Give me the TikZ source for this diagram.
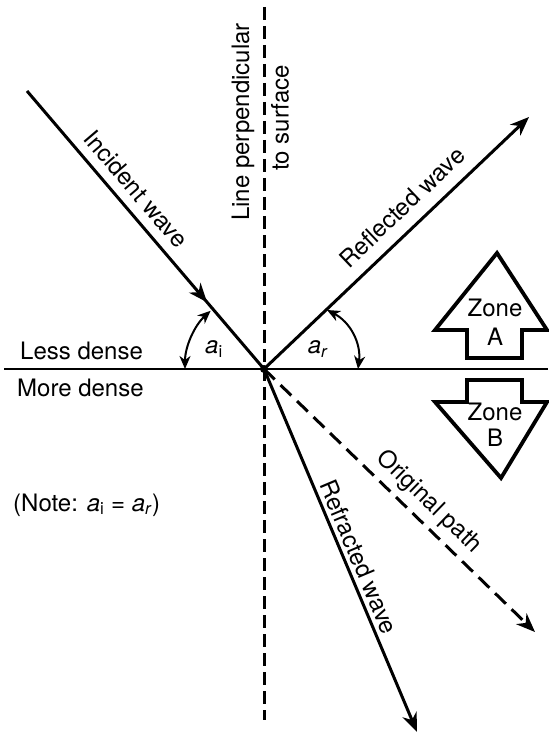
\documentclass[tikz,border=0pt]{standalone}
\usepackage{fontspec}
\setmainfont{TeX Gyre Heros}
\usetikzlibrary{arrows.meta,decorations.markings}
\tikzset{
  txt/.style={font=\fontsize{24}{28}\selectfont, inner sep=0pt},
  wave/.style={line width=3pt},
  bigtip/.style={-{Stealth[length=19pt,width=15pt,inset=6pt]}},
  angtip/.style={{Stealth[length=13pt,width=11pt,inset=4pt]}-{Stealth[length=13pt,width=11pt,inset=4pt]}},
  zone/.style={line width=3.8pt, line join=miter},
}
\begin{document}
\begin{tikzpicture}[x=1pt,y=-1pt]
\useasboundingbox (0,0) rectangle (548,735);
% key points
\coordinate (O) at (264,369);
\coordinate (I) at (27,91);
\coordinate (R) at (529,117);
\coordinate (P) at (535,632);
\coordinate (F) at (417,732);
\coordinate (Vt) at (264,7);
\coordinate (Vb) at (264,720);
\coordinate (Hl) at (4,369);
\coordinate (Hr) at (548,369);
% surface and normal
\draw[line width=2.6pt] (Hl) -- (Hr);
\draw[line width=3pt, dash pattern=on 13pt off 6pt] (Vt) -- (Vb);
% incident wave with arrow in the middle
\draw[wave, postaction={decorate}, decoration={markings,
  mark=at position 0.76 with {\arrow{Stealth[length=19pt,width=15pt,inset=6pt]}}}] (I) -- (O);
% reflected
\draw[wave, bigtip] (O) -- (R);
% original path
\draw[wave, bigtip, dash pattern=on 15pt off 8pt] (O) -- (P);
% refracted
\draw[wave, bigtip] (O) -- (F);
\fill (O) circle (4pt);
% angle arcs
\coordinate (A1) at (185,369);
\draw[line width=2pt, angtip] (A1) arc[start angle=180, end angle=132.5, radius=79pt];
\coordinate (B2) at (327,310);
\coordinate (A2) at (358,369);
\draw[line width=2pt, angtip] (B2) to[bend left=35] (A2);
% labels
\node[txt] (ai) at (214,349) {\textit{a}\textsubscript{i}};
\node[txt] (ar) at (318,349) {\textit{a}\textsubscript{\textit{r}}};
\node[txt, anchor=west] (less) at (20,351) {Less dense};
\node[txt, anchor=west] (more) at (17,388) {More dense};
\node[txt, anchor=west] (note) at (13,505) {(Note: \textit{a}\textsubscript{i} = \textit{a}\textsubscript{\textit{r}})};
\node[txt, rotate=90] (lp) at (243,122) {Line perpendicular};
\node[txt, rotate=90] (ts) at (280,118) {to surface};
\node[txt, rotate=-49.5] (inc) at (136,189) {Incident wave};
\node[txt, rotate=43.6] (refl) at (402,207) {Reflected wave};
\node[txt, rotate=-44.1] (orig) at (429,502) {Original path};
\node[txt, rotate=-67.1] (refr) at (359,557) {Refracted wave};
% zone arrows
\draw[zone] (497,253) -- (547,330) -- (522,330) -- (522,358) -- (467,358) -- (467,330) -- (435,330) -- cycle;
\node[txt, align=center, font=\fontsize{24}{29}\selectfont] (za) at (495,322) {Zone\\A};
\draw[zone] (467,380) -- (522,380) -- (522,402) -- (547,402) -- (501,478) -- (435,402) -- (467,402) -- cycle;
\node[txt, align=center, font=\fontsize{24}{26}\selectfont] (zb) at (495,425) {Zone\\B};
\end{tikzpicture}
\end{document}
